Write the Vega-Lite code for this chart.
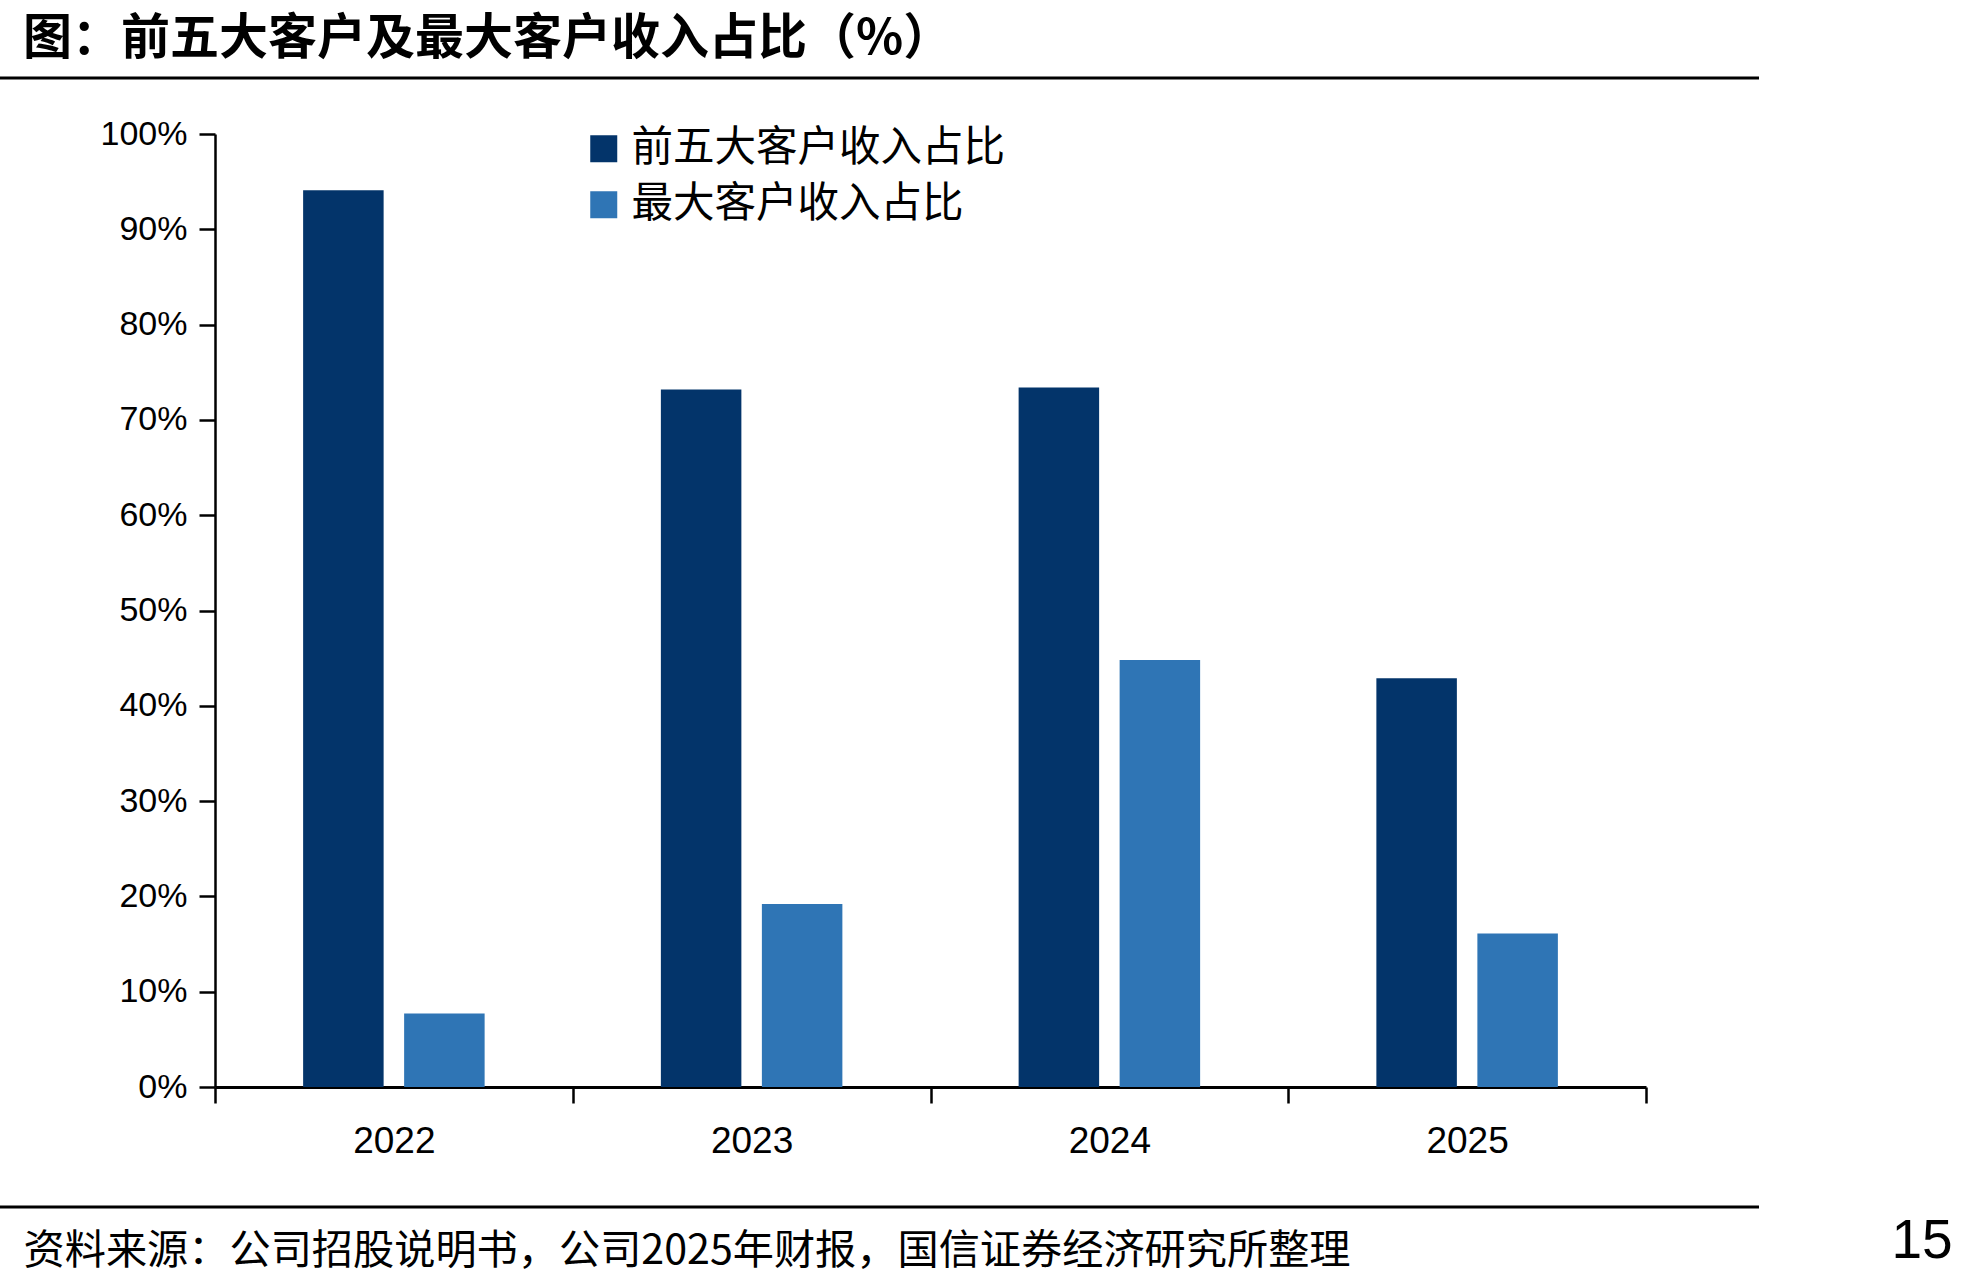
{
  "$schema": "https://vega.github.io/schema/vega-lite/v6.json",
  "width": 1431,
  "height": 953,
  "autosize": {"type": "none"},
  "padding": {"left": 215, "top": 134, "right": 324, "bottom": 195},
  "background": "white",
  "config": {"view": {"stroke": null}},
  "title": {
    "text": "图：前五大客户及最大客户收入占比（%）",
    "anchor": "start",
    "frame": "group",
    "font": "Noto Sans CJK SC",
    "fontSize": 49,
    "fontWeight": "bold",
    "color": "black",
    "baseline": "middle",
    "offset": 0,
    "dx": -192,
    "dy": 11
  },
  "data": {
    "values": [
      {"year": "2022", "series": "前五大客户收入占比", "value": 94.1},
      {"year": "2022", "series": "最大客户收入占比", "value": 7.7},
      {"year": "2023", "series": "前五大客户收入占比", "value": 73.2},
      {"year": "2023", "series": "最大客户收入占比", "value": 19.2},
      {"year": "2024", "series": "前五大客户收入占比", "value": 73.4},
      {"year": "2024", "series": "最大客户收入占比", "value": 44.8},
      {"year": "2025", "series": "前五大客户收入占比", "value": 42.9},
      {"year": "2025", "series": "最大客户收入占比", "value": 16.1}
    ]
  },
  "resolve": {"axis": {"y": "independent"}},
  "layer": [
    {
      "mark": {"type": "bar"},
      "encoding": {
        "x": {
          "field": "year",
          "type": "nominal",
          "scale": {"paddingInner": 0, "paddingOuter": 0},
          "axis": {
            "labelAngle": 0,
            "tickBand": "extent",
            "tickSize": 16,
            "tickWidth": 2.5,
            "tickColor": "black",
            "domainColor": "black",
            "domainWidth": 3,
            "labelFont": "Liberation Sans",
            "labelFontSize": 37,
            "labelColor": "black",
            "labelPadding": 20,
            "title": "资料来源：公司招股说明书，公司2025年财报，国信证券经济研究所整理",
            "titleFont": "Noto Sans CJK SC",
            "titleFontSize": 41.2,
            "titleFontWeight": "normal",
            "titleColor": "black",
            "titleAlign": "left",
            "titleBaseline": "middle",
            "titleAnchor": "start",
            "titleX": -192,
            "titleY": 164
          }
        },
        "xOffset": {
          "field": "series",
          "type": "nominal",
          "sort": ["前五大客户收入占比", "最大客户收入占比"],
          "scale": {"paddingInner": 0.203, "paddingOuter": 0.8725}
        },
        "y": {
          "field": "value",
          "type": "quantitative",
          "scale": {"domain": [0, 100], "nice": false},
          "axis": {
            "values": [0, 10, 20, 30, 40, 50, 60, 70, 80, 90, 100],
            "labelExpr": "datum.value + '%'",
            "grid": false,
            "tickSize": 16,
            "tickWidth": 2.5,
            "tickColor": "black",
            "domainColor": "black",
            "domainWidth": 2.5,
            "labelFont": "Liberation Sans",
            "labelFontSize": 34,
            "labelColor": "black",
            "labelPadding": 12,
            "title": "15",
            "titleAngle": 0,
            "titleFont": "Liberation Sans",
            "titleFontSize": 55,
            "titleFontWeight": "normal",
            "titleColor": "black",
            "titleAlign": "left",
            "titleBaseline": "middle",
            "titleX": 1676,
            "titleY": 1106
          }
        },
        "color": {
          "field": "series",
          "type": "nominal",
          "sort": ["前五大客户收入占比", "最大客户收入占比"],
          "scale": {"domain": ["前五大客户收入占比", "最大客户收入占比"], "range": ["#03346A", "#2F75B5"]},
          "legend": {
            "title": null,
            "orient": "none",
            "legendX": 368,
            "legendY": -6,
            "padding": 0,
            "symbolType": "square",
            "symbolSize": 729,
            "symbolStrokeWidth": 0,
            "labelFont": "Noto Sans CJK SC",
            "labelFontSize": 41.5,
            "labelColor": "black",
            "labelOffset": 7,
            "rowPadding": 13,
            "labelLimit": 600
          }
        }
      }
    },
    {
      "data": {"values": [{}]},
      "mark": {"type": "rule", "color": "black", "strokeWidth": 3},
      "encoding": {
        "y": {"datum": 105.87, "type": "quantitative", "axis": null},
        "x": {"value": -215},
        "x2": {"value": 1544}
      }
    },
    {
      "data": {"values": [{}]},
      "mark": {"type": "rule", "color": "black", "strokeWidth": 3},
      "encoding": {
        "y": {"datum": -12.59, "type": "quantitative", "axis": null},
        "x": {"value": -215},
        "x2": {"value": 1544}
      }
    }
  ]
}
